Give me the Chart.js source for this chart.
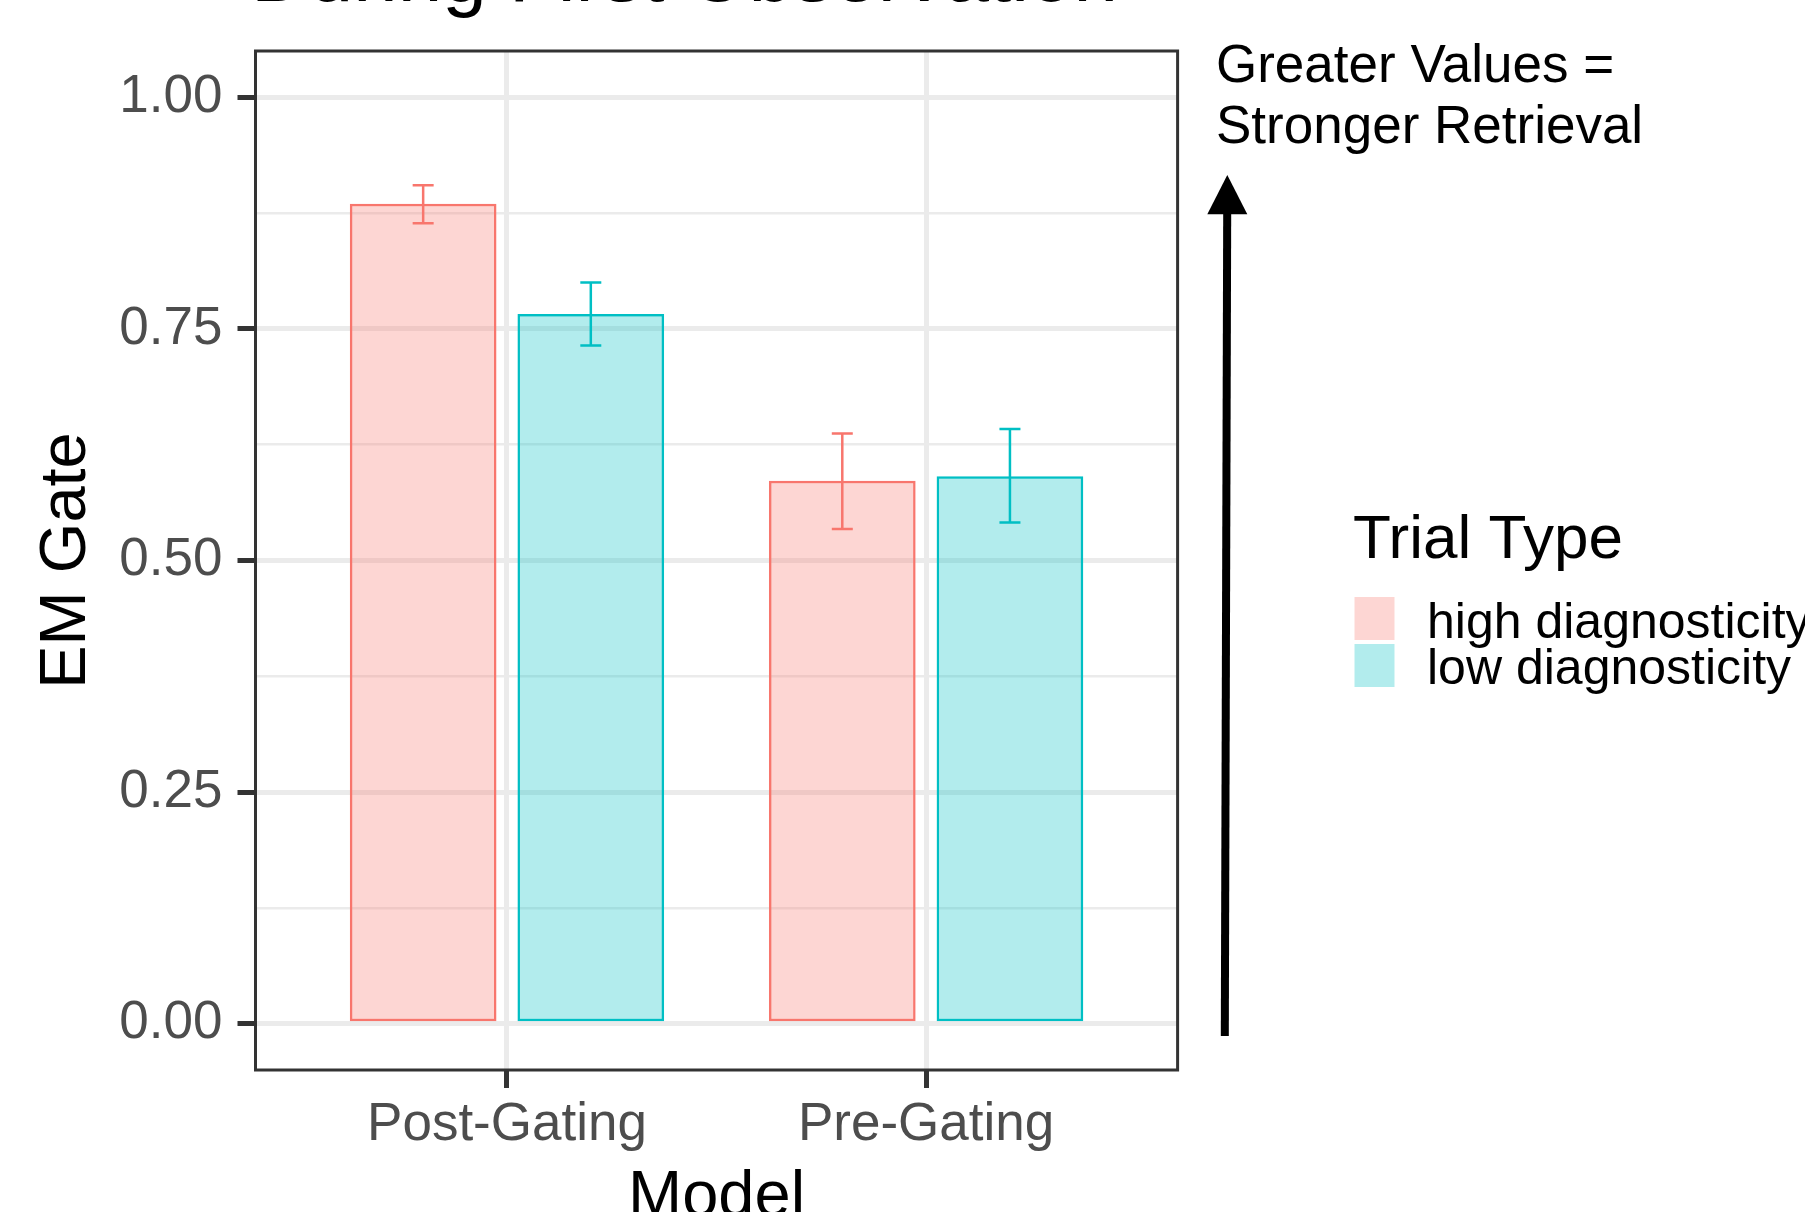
<!DOCTYPE html>
<html>
<head>
<meta charset="utf-8">
<script src="https://cdn.jsdelivr.net/npm/chart.js@4"></script>
<style>
  html, body { margin: 0; padding: 0; background: #fff; }
  canvas { display: block; }
</style>
</head>
<body>
<canvas id="myChart" width="1805" height="1212"></canvas>
<script>
  // data
  const models = ['Post-Gating', 'Pre-Gating'];
  const trialTypes = ['high diagnosticity', 'low diagnosticity'];
  const highMean = [0.885, 0.586];
  const highLower = [0.864, 0.534];
  const highUpper = [0.905, 0.637];
  const lowMean = [0.766, 0.591];
  const lowLower = [0.732, 0.541];
  const lowUpper = [0.800, 0.642];
  const yTicks = [0, 0.125, 0.25, 0.375, 0.5, 0.625, 0.75, 0.875, 1];
  const yLabels = ['0.00', '', '0.25', '', '0.50', '', '0.75', '', '1.00'];

  const family = '"Liberation Sans", Arial, Helvetica, sans-serif';
  const isMajor = v => Math.abs(v * 4 - Math.round(v * 4)) < 1e-6;

  const toPoints = vals => vals.map((v, i) => ({ x: i + 1, y: v }));

  // error bars on top of the bars
  const errorBars = {
    id: 'errorBars',
    afterDatasetsDraw(chart) {
      const ctx = chart.ctx;
      const y = chart.scales.y;
      chart.data.datasets.forEach((ds, i) => {
        chart.getDatasetMeta(i).data.forEach((bar, j) => {
          const top = y.getPixelForValue(ds.upper[j]);
          const bot = y.getPixelForValue(ds.lower[j]);
          ctx.save();
          ctx.strokeStyle = ds.borderColor;
          ctx.lineWidth = 2.5;
          ctx.beginPath();
          ctx.moveTo(bar.x, top); ctx.lineTo(bar.x, bot);
          ctx.moveTo(bar.x - 10.5, top); ctx.lineTo(bar.x + 10.5, top);
          ctx.moveTo(bar.x - 10.5, bot); ctx.lineTo(bar.x + 10.5, bot);
          ctx.stroke();
          ctx.restore();
        });
      });
    }
  };

  // panel border, title, arrow note and legend
  const extras = {
    id: 'extras',
    afterDraw(chart) {
      const ctx = chart.ctx;
      const a = chart.chartArea;
      ctx.save();
      ctx.strokeStyle = '#333333';
      ctx.lineWidth = 3;
      ctx.strokeRect(a.left, a.top, a.right - a.left, a.bottom - a.top);

      ctx.fillStyle = '#000';
      ctx.textAlign = 'left';
      ctx.textBaseline = 'alphabetic';
      ctx.font = '80px ' + family;
      ctx.fillText('During First Observation', 251, 1);

      ctx.font = '53px ' + family;
      ctx.fillText('Greater Values =', 1216, 82);
      ctx.fillText('Stronger Retrieval', 1216, 143);

      // arrow
      ctx.strokeStyle = '#000';
      ctx.lineWidth = 8;
      ctx.beginPath();
      ctx.moveTo(1224.8, 1036);
      ctx.lineTo(1227.2, 212);
      ctx.stroke();
      ctx.beginPath();
      ctx.moveTo(1227.3, 175);
      ctx.lineTo(1207.3, 214.3);
      ctx.lineTo(1247.3, 214.3);
      ctx.closePath();
      ctx.fill();

      // legend
      ctx.font = '62px ' + family;
      ctx.fillText('Trial Type', 1353, 558);
      ctx.font = '50px ' + family;
      const keyTops = [597, 644];
      const baselines = [638, 684];
      chart.data.datasets.forEach((ds, i) => {
        ctx.fillStyle = ds.backgroundColor;
        ctx.fillRect(1354.5, keyTops[i], 40, 43);
        ctx.fillStyle = '#000';
        ctx.fillText(ds.label, 1427, baselines[i]);
      });
      ctx.restore();
    }
  };

  const chart = new Chart(document.getElementById('myChart').getContext('2d'), {
    type: 'bar',
    data: {
      datasets: [{
        label: trialTypes[0],
        data: toPoints(highMean),
        lower: highLower,
        upper: highUpper,
        backgroundColor: 'rgba(248, 118, 109, 0.3)',
        borderColor: '#F8766D',
        borderWidth: 2.5,
        borderSkipped: false,
        categoryPercentage: 0.8,
        barPercentage: 0.875
      }, {
        label: trialTypes[1],
        data: toPoints(lowMean),
        lower: lowLower,
        upper: lowUpper,
        backgroundColor: 'rgba(0, 191, 196, 0.3)',
        borderColor: '#00BFC4',
        borderWidth: 2.5,
        borderSkipped: false,
        categoryPercentage: 0.8,
        barPercentage: 0.875
      }]
    },
    options: {
      responsive: false,
      devicePixelRatio: 1,
      animation: false,
      layout: { padding: { top: 51, right: 627.4, left: 0, bottom: 0 } },
      plugins: {
        legend: { display: false },
        tooltip: { enabled: false }
      },
      scales: {
        x: {
          type: 'linear',
          min: 0.4,
          max: 2.6,
          offset: false,
          afterBuildTicks: s => { s.ticks = models.map((m, i) => ({ value: i + 1 })); },
          afterFit: s => { s.height = 142; },
          ticks: {
            callback: v => models[Math.round(v) - 1] || '',
            color: '#4D4D4D',
            font: { family: family, size: 53, lineHeight: 1.2 },
            padding: 6,
            maxRotation: 0,
            autoSkip: false
          },
          grid: { offset: false, color: '#EBEBEB', lineWidth: 5, tickLength: 18, tickColor: '#333333', tickWidth: 5 },
          border: { display: false },
          title: {
            display: true,
            text: 'Model',
            color: '#000',
            font: { family: family, size: 65, lineHeight: 0.4 },
            padding: { top: 0, bottom: 1 }
          }
        },
        y: {
          min: -0.05,
          max: 1.05,
          afterBuildTicks: s => { s.ticks = yTicks.map(v => ({ value: v })); },
          afterFit: s => { s.width = 255.5; },
          ticks: {
            callback: (v, i) => yLabels[i],
            color: '#4D4D4D',
            font: { family: family, size: 53 },
            padding: 15
          },
          grid: {
            color: '#EBEBEB',
            lineWidth: c => (c.tick && isMajor(c.tick.value)) ? 5 : 2.5,
            tickLength: 18,
            tickColor: c => (c.tick && isMajor(c.tick.value)) ? '#333333' : 'rgba(0,0,0,0)',
            tickWidth: 5
          },
          border: { display: false },
          title: {
            display: true,
            text: 'EM Gate',
            color: '#000',
            font: { family: family, size: 65, lineHeight: 1 },
            padding: { top: 35, bottom: 0 }
          }
        }
      }
    },
    plugins: [errorBars, extras]
  });
</script>
</body>
</html>
